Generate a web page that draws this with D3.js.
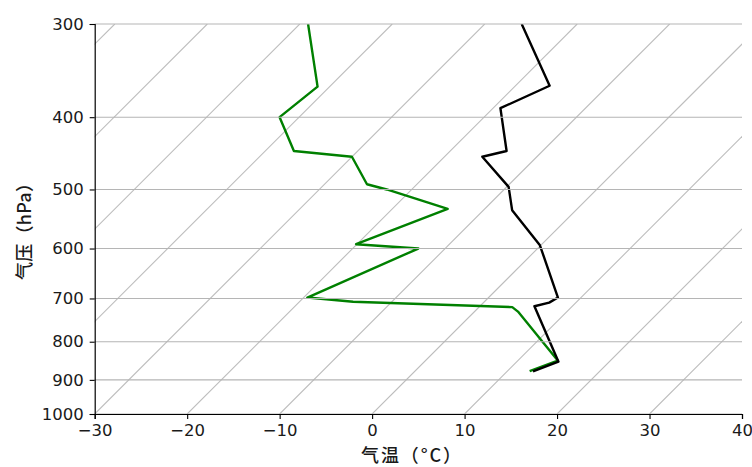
<!DOCTYPE html>
<html>
<head>
<meta charset="utf-8">
<script src="https://cdn.jsdelivr.net/npm/d3@7"></script>
<style>
  body { margin: 0; background: #fff; }
  svg { display: block; }
  text { fill: #1a1a1a; }
  .cjk { font-family: "Noto Sans CJK SC", sans-serif; font-weight: 500; }
</style>
</head>
<body>
<svg width="752" height="467"></svg>
<script>
// temperature profile (hPa, °C)
const tempP = [300, 363, 389, 444, 452, 496, 533, 594, 698, 709, 717, 851, 877];
const tempT = [-26.0, -16.3, -19.2, -13.9, -15.9, -9.8, -6.9, -0.1, 7.5, 7.1, 5.9, 14.5, 12.8];
// dew point profile
const dewP = [300, 364, 400, 444, 452, 492, 500, 531, 592, 600, 698, 707, 719, 729, 848, 876];
const dewT = [-49.1, -41.3, -42.1, -36.9, -30.0, -25.4, -22.7, -14.0, -20.1, -12.9, -19.6, -14.2, 3.6, 4.7, 14.3, 12.4];

const pTicks = [300, 400, 500, 600, 700, 800, 900, 1000];
const tTicks = [-30, -20, -10, 0, 10, 20, 30, 40];
const isotherms = d3.range(-120, 50, 10);

const mLeft = 94.7, mRight = 742, mTop = 24, mBottom = 414;

const x = d3.scaleLinear().domain([-30, 40]).range([mLeft, mRight]);
const y = d3.scaleLog().domain([1000, 300]).range([mBottom, mTop]);

// skewed x position (45 degree isotherms)
const sx = (t, p) => x(t) + (y(1000) - y(p));

const svg = d3.select('svg');

svg.append('clipPath').attr('id', 'plot')
  .append('rect')
  .attr('x', mLeft).attr('y', mTop)
  .attr('width', mRight - mLeft).attr('height', mBottom - mTop);

const plot = svg.append('g').attr('clip-path', 'url(#plot)');

// isotherms
plot.selectAll('.iso')
  .data(isotherms)
  .enter()
  .append('line')
  .attr('x1', t => sx(t, 1000))
  .attr('y1', y(1000))
  .attr('x2', t => sx(t, 300))
  .attr('y2', y(300))
  .attr('stroke', '#bdbdbd')
  .attr('stroke-width', 1.1);

// isobars
svg.selectAll('.isobar')
  .data(pTicks)
  .enter()
  .append('line')
  .attr('x1', mLeft).attr('x2', mRight)
  .attr('y1', p => y(p)).attr('y2', p => y(p))
  .attr('stroke', '#b5b5b5')
  .attr('stroke-width', 1.1);

const line = d3.line()
  .x(d => sx(d[1], d[0]))
  .y(d => y(d[0]));

plot.append('path')
  .datum(dewP.map((p, i) => [p, dewT[i]]))
  .attr('d', line)
  .attr('fill', 'none')
  .attr('stroke', '#008000')
  .attr('stroke-width', 2.4)
  .attr('stroke-linejoin', 'round');

plot.append('path')
  .datum(tempP.map((p, i) => [p, tempT[i]]))
  .attr('d', line)
  .attr('fill', 'none')
  .attr('stroke', '#000')
  .attr('stroke-width', 2.4)
  .attr('stroke-linejoin', 'round');

// axes
svg.append('g')
  .attr('transform', `translate(${mLeft},0)`)
  .call(d3.axisLeft(y).tickValues(pTicks).tickFormat(d3.format('d')).tickSize(5).tickPadding(6));

svg.append('g')
  .attr('transform', `translate(0,${mBottom})`)
  .call(d3.axisBottom(x).tickValues(tTicks).tickFormat(d => d < 0 ? '\u2212' + Math.abs(d) : d).tickSize(5).tickPadding(5));

svg.selectAll('.domain').attr('stroke', '#000').attr('stroke-width', 1.2);
svg.selectAll('.tick line').attr('stroke', '#000').attr('stroke-width', 1.1);
svg.selectAll('.tick text')
  .style('font-size', '16.5px')
  .style('fill', '#1a1a1a')
  .style('font-family', '"DejaVu Sans", sans-serif');

svg.append('text')
  .attr('class', 'cjk')
  .attr('x', 411)
  .attr('y', 462)
  .attr('text-anchor', 'middle')
  .attr('textLength', 100)
  .attr('lengthAdjust', 'spacing')
  .style('font-size', '18px')
  .text('气温（°C）');

svg.append('text')
  .attr('class', 'cjk')
  .attr('transform', 'translate(31,227) rotate(-90)')
  .attr('text-anchor', 'middle')
  .attr('textLength', 106)
  .attr('lengthAdjust', 'spacing')
  .style('font-size', '18px')
  .text('气压（hPa）');
</script>
</body>
</html>
